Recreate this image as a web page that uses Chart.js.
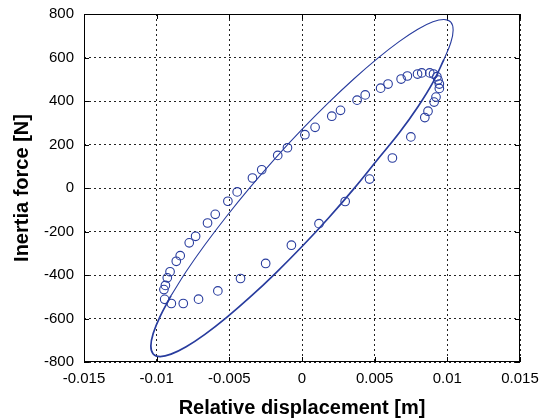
<!DOCTYPE html>
<html>
<head>
<meta charset="utf-8">
<script src="https://cdn.jsdelivr.net/npm/chart.js@4.4.1/dist/chart.umd.min.js"></script>
<style>
    html, body { margin: 0; padding: 0; background: #fff; }
</style>
</head>
<body>
<canvas id="grafico-histerese" width="540" height="420"></canvas>
<script>
// measured points: relative displacement [m] and inertia force [N]
var deslocMedido = [-0.0095, -0.0094, -0.00927, -0.00908, -0.00865, -0.00838, -0.00776, -0.00732,
    -0.0065, -0.00597, -0.0051, -0.00446, -0.00341, -0.00277, -0.00167, -0.001, 0.0002, 0.0009,
    0.00205, 0.00265, 0.00379, 0.00435, 0.00541, 0.00592, 0.00682, 0.00725, 0.00795, 0.00824,
    0.00879, 0.00905, 0.00928, 0.00936, 0.00945, 0.00945, 0.00922, 0.00909, 0.00867, 0.00845,
    0.00749, 0.00622, 0.00465, 0.00297, 0.00117, -0.00073, -0.0025, -0.00423, -0.00579,
    -0.00712, -0.00817, -0.00899, -0.00945];
var forcaMedida = [-467, -448, -413, -385, -337, -311, -252, -222,
    -161, -121, -61, -18, 46, 84, 150, 185, 245, 279,
    330, 357, 404, 428, 459, 478, 501, 515, 524, 529,
    529, 524, 512, 496, 478, 458, 418, 395, 353, 324,
    235, 138, 41, -62, -164, -263, -347, -416, -473,
    -511, -531, -531, -512];

// loop curve, upper part (thin line)
var deslocCurvaSup = [-0.00901, -0.00797, -0.00668, -0.0052, -0.00356, -0.00181, 0, 0.00181,
    0.00356, 0.0052, 0.00668, 0.00797, 0.00901, 0.00977, 0.01024, 0.0104, 0.01024, 0.00977];
var forcaCurvaSup = [-495, -384, -261, -131, 4, 139, 269, 391,
    501, 596, 673, 730, 764, 775, 763, 727, 669, 591];

// loop curve, lower part (thicker line)
var deslocCurvaInf = [0.00977, 0.00903, 0.008, 0.00672, 0.0052, 0.00356, 0.00181, 0, -0.00181,
    -0.00356, -0.0052, -0.00668, -0.00797, -0.00901, -0.00977, -0.01024, -0.0104, -0.01024,
    -0.00977, -0.00901];
var forcaCurvaInf = [591, 488, 376, 256, 131, -4, -139, -269, -391,
    -501, -596, -673, -730, -764, -775, -763, -727, -669,
    -591, -495];

var ticksX = [-0.015, -0.01, -0.005, 0, 0.005, 0.01, 0.015];
var ticksY = [-800, -600, -400, -200, 0, 200, 400, 600, 800];

var azul = '#283c9e';

function pares(xs, ys) {
    var r = [];
    for (var i = 0; i < xs.length; i++) {
        r.push({ x: xs[i], y: ys[i] });
    }
    return r;
}

// no automatic padding for the outer tick labels
function semFolga(scale) {
    scale.paddingLeft = 0;
    scale.paddingRight = 0;
    scale.paddingTop = 0;
    scale.paddingBottom = 0;
}

// solid box and inward tick marks, matlab style
var moldura = {
    id: 'moldura',
    afterDraw: function (chart) {
        var ctx = chart.ctx;
        var a = chart.chartArea;
        var sx = chart.scales.x;
        var sy = chart.scales.y;
        ctx.save();
        ctx.strokeStyle = '#000';
        ctx.lineWidth = 1;
        ctx.setLineDash([]);
        ctx.strokeRect(a.left + 0.5, a.top + 0.5, a.right - a.left - 1, a.bottom - a.top - 1);
        ctx.beginPath();
        ticksX.forEach(function (v) {
            var px = Math.round(sx.getPixelForValue(v)) + 0.5;
            ctx.moveTo(px, a.bottom); ctx.lineTo(px, a.bottom - 5);
            ctx.moveTo(px, a.top); ctx.lineTo(px, a.top + 5);
        });
        ticksY.forEach(function (v) {
            var py = Math.round(sy.getPixelForValue(v)) + 0.5;
            ctx.moveTo(a.left, py); ctx.lineTo(a.left + 5, py);
            ctx.moveTo(a.right, py); ctx.lineTo(a.right - 5, py);
        });
        ctx.stroke();
        ctx.restore();
    }
};

new Chart(document.getElementById('grafico-histerese'), {
    type: 'scatter',
    data: {
        datasets: [
            {
                label: 'medido',
                data: pares(deslocMedido, forcaMedida),
                showLine: false,
                pointStyle: 'circle',
                pointRadius: 4.3,
                pointBorderWidth: 1.1,
                pointBorderColor: azul,
                pointBackgroundColor: 'rgba(0,0,0,0)'
            },
            {
                label: 'curva sup',
                data: pares(deslocCurvaSup, forcaCurvaSup),
                showLine: true,
                borderColor: azul,
                borderWidth: 1.1,
                pointRadius: 0,
                tension: 0.4
            },
            {
                label: 'curva inf',
                data: pares(deslocCurvaInf, forcaCurvaInf),
                showLine: true,
                borderColor: azul,
                borderWidth: 1.7,
                pointRadius: 0,
                tension: 0.4
            }
        ]
    },
    options: {
        responsive: false,
        animation: false,
        layout: { padding: { top: 14, right: 20, left: 0, bottom: 0 } },
        plugins: {
            legend: { display: false },
            tooltip: { enabled: false }
        },
        scales: {
            x: {
                type: 'linear',
                min: -0.015,
                max: 0.015,
                afterBuildTicks: function (scale) {
                    scale.ticks = ticksX.map(function (v) { return { value: v }; });
                },
                afterFit: function (scale) { scale.height = 58; semFolga(scale); },
                ticks: {
                    autoSkip: false,
                    maxRotation: 0,
                    padding: 8,
                    color: '#000',
                    font: { family: 'Liberation Sans', size: 15 },
                    callback: function (v) { return String(v); }
                },
                grid: { color: '#222', lineWidth: 1, drawTicks: false },
                border: { display: false, dash: [2, 3] },
                title: {
                    display: true,
                    text: 'Relative displacement [m]',
                    color: '#000',
                    font: { family: 'Liberation Sans', size: 20, weight: 'bold' },
                    padding: { top: 0, bottom: 0 }
                }
            },
            y: {
                type: 'linear',
                min: -800,
                max: 800,
                afterBuildTicks: function (scale) {
                    scale.ticks = ticksY.map(function (v) { return { value: v }; });
                },
                afterFit: function (scale) { scale.width = 84; semFolga(scale); },
                ticks: {
                    padding: 10,
                    color: '#000',
                    font: { family: 'Liberation Sans', size: 15 }
                },
                grid: { color: '#222', lineWidth: 1, drawTicks: false },
                border: { display: false, dash: [2, 3] },
                title: {
                    display: true,
                    text: 'Inertia force [N]',
                    color: '#000',
                    font: { family: 'Liberation Sans', size: 20, weight: 'bold' },
                    padding: { top: 10, bottom: 0 }
                }
            }
        }
    },
    plugins: [moldura]
});
</script>
</body>
</html>
